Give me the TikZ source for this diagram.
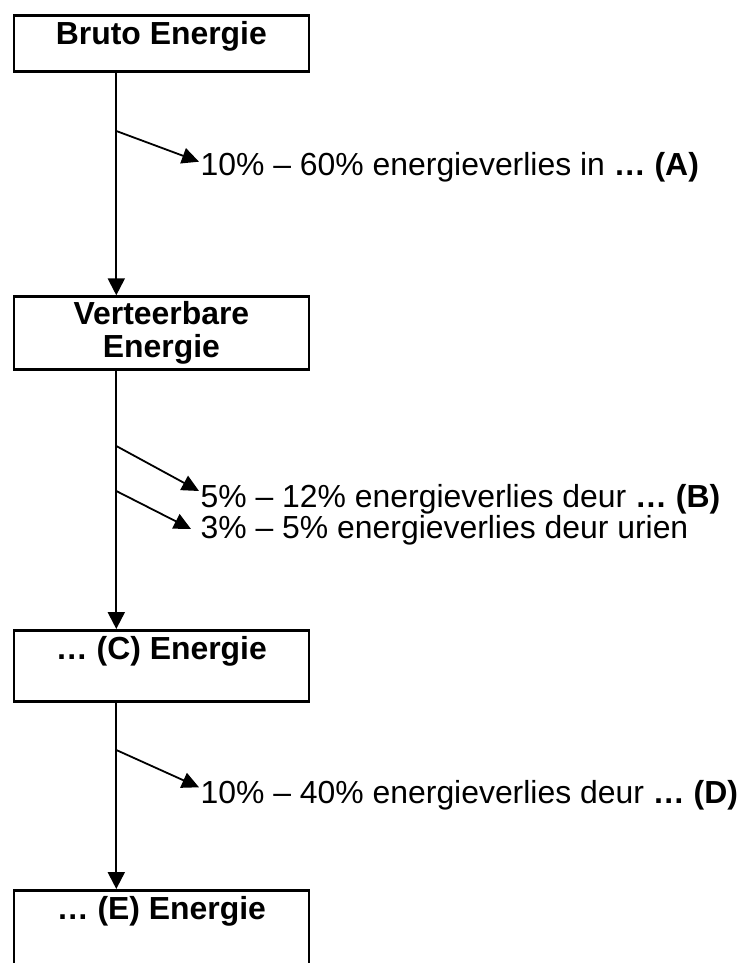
\documentclass[tikz,border=0pt]{standalone}
\usepackage{fontspec}
\setmainfont{Liberation Sans}
\usetikzlibrary{arrows.meta}
\begin{document}
\begin{tikzpicture}[x=1pt,y=-1pt,
  box/.style={draw,line width=2.8pt,minimum width=295pt,inner sep=0pt,anchor=north west,
    font=\fontsize{31.9}{33.5}\selectfont\bfseries},
  lbl/.style={inner sep=0pt,anchor=base west,font=\fontsize{31.9}{33.5}\selectfont},
  mainarr/.style={line width=2.1pt,-{Triangle[length=17pt,width=17pt]}},
  brarr/.style={line width=1.8pt,-{Triangle[length=17pt,width=16pt]}}]
\clip (0,0) rectangle (742,963);
\useasboundingbox (0,0) rectangle (742,963);
% boxes
\node[box,text height=29pt,text depth=27pt] (b1) at (12.5,14) {Bruto Energie};
\node[box,minimum height=72.7pt,align=center] (b2) at (12.5,295.3) {Verteerbare\\Energie};
\node[box,text height=29pt,text depth=42.3pt] (b3) at (12.5,629) {… (C) Energie};
\node[box,text height=29pt,text depth=90pt] (b4) at (12.5,889) {… (E) Energie};
% spine
\coordinate (sp) at (116.3,0);
\draw[mainarr] (sp |- b1.south) -- (sp |- b2.north);
\draw[mainarr] (sp |- b2.south) -- (sp |- b3.north);
\draw[mainarr] (sp |- b3.south) -- (sp |- b4.north);
% labels
\node[lbl] (tA) at (200.5,175.5) {10\% – 60\% energieverlies in \textbf{… (A)}};
\node[lbl] (tB) at (200.5,507) {5\% – 12\% energieverlies deur \textbf{… (B)}};
\node[lbl] (tU) at (200.5,538) {3\% – 5\% energieverlies deur urien};
\node[lbl] (tD) at (200.5,803) {10\% – 40\% energieverlies deur \textbf{… (D)}};
% branch arrows
\coordinate (sA) at (116.3,131);  \coordinate (eA) at (199,161.7);
\coordinate (sB) at (116.3,446);  \coordinate (eB) at (199,491);
\coordinate (sU) at (116.3,491);  \coordinate (eU) at (191,529);
\coordinate (sD) at (116.3,750);  \coordinate (eD) at (199,787.3);
\draw[brarr] (sA) -- (eA);
\draw[brarr] (sB) -- (eB);
\draw[brarr] (sU) -- (eU);
\draw[brarr] (sD) -- (eD);
\end{tikzpicture}
\end{document}
